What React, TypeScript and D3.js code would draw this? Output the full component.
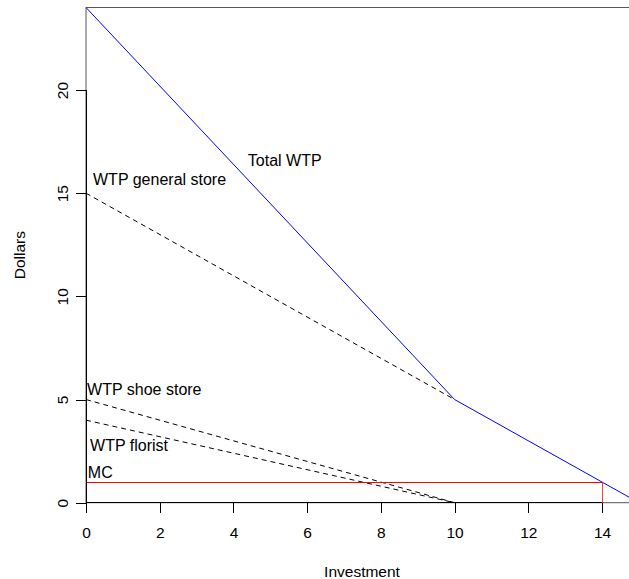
import React, { useRef, useEffect } from 'react';
import * as d3 from 'd3';

// willingness to pay curves (investment -> dollars)
const investment = [0, 10];
const generalStore = [15, 5];
const shoeStore = [5, 0];
const florist = [4, 0];
const totalX = [0, 10, 15];
const totalWTP = [24, 5, 0];
const mcX = [0, 14];
const mcY = [1, 1];
const xTicks = [0, 2, 4, 6, 8, 10, 12, 14];
const yTicks = [0, 5, 10, 15, 20];
const labels = [
    { text: 'WTP general store', x: 0.19, y: 15.67 },
    { text: 'Total WTP', x: 4.39, y: 16.6 },
    { text: 'WTP shoe store', x: 0.03, y: 5.49 },
    { text: 'WTP florist', x: 0.11, y: 2.8 },
    { text: 'MC', x: 0.05, y: 1.46 },
];

const W = 629;
const H = 579;
const FONT = '"Liberation Sans", Arial, sans-serif';

const App = () => {
    const svgRef = useRef<SVGSVGElement>(null);

    useEffect(() => {
        const svg = d3.select(svgRef.current)
            .attr('width', W)
            .attr('height', H)
            .style('position', 'absolute')
            .style('left', 0)
            .style('top', 0)
            .style('background', '#fff');
        svg.selectAll('*').remove();

        const x = d3.scaleLinear().domain([0, 15]).range([86, 86 + 15 * 36.86]);
        const y = d3.scaleLinear().domain([0, 24]).range([502.7, 7.5]);

        svg.append('defs').append('clipPath').attr('id', 'plot')
            .append('rect')
            .attr('x', x(0)).attr('y', y(24))
            .attr('width', x(15) - x(0)).attr('height', y(0) - y(24));

        // box
        svg.append('rect')
            .attr('x', x(0)).attr('y', y(24))
            .attr('width', x(15) - x(0)).attr('height', y(0) - y(24))
            .attr('fill', 'none').attr('stroke', '#555');

        const line = d3.line<[number, number]>().x(d => x(d[0])).y(d => y(d[1]));
        const plot = svg.append('g').attr('clip-path', 'url(#plot)');

        [generalStore, shoeStore, florist].forEach(vals => {
            plot.append('path')
                .attr('d', line(investment.map((v, i) => [v, vals[i]])))
                .attr('fill', 'none').attr('stroke', '#000')
                .attr('stroke-dasharray', '5,4');
        });

        plot.append('path')
            .attr('d', line(totalX.map((v, i) => [v, totalWTP[i]])))
            .attr('fill', 'none').attr('stroke', '#0000ff');

        plot.append('path')
            .attr('d', line(mcX.map((v, i) => [v, mcY[i]])))
            .attr('fill', 'none').attr('stroke', '#ff0000')
            .attr('shape-rendering', 'crispEdges');
        plot.append('path')
            .attr('d', line([[mcX[1], 0], [mcX[1], mcY[1]]]))
            .attr('fill', 'none').attr('stroke', '#ff0000').attr('stroke-opacity', 0.75)
            .attr('shape-rendering', 'crispEdges');

        // axes
        const xAxis = d3.axisBottom(x).tickValues(xTicks).tickSize(10).tickPadding(14);
        const gx = svg.append('g').attr('transform', `translate(0,${y(0)})`).call(xAxis);
        gx.select('.domain').attr('d', `M${x(0)},0H${x(14)}`);

        const yAxis = d3.axisLeft(y).tickValues(yTicks).tickSize(10).tickPadding(0);
        const gy = svg.append('g').attr('transform', `translate(${x(0)},0)`).call(yAxis);
        gy.select('.domain').attr('d', `M0,${y(0)}V${y(20)}`);
        gy.selectAll('.tick text')
            .attr('x', null).attr('dy', null)
            .attr('text-anchor', 'middle')
            .attr('transform', 'translate(-23,0) rotate(-90)')
            .attr('dy', '0.35em');

        svg.selectAll('.tick text')
            .attr('font-family', FONT).attr('font-size', 15.5).attr('fill', '#000');
        svg.selectAll('.domain, .tick line').attr('stroke', '#000')
            .attr('shape-rendering', 'crispEdges');

        svg.selectAll('text.lbl')
            .data(labels)
            .enter()
            .append('text')
            .attr('class', 'lbl')
            .attr('x', d => x(d.x))
            .attr('y', d => y(d.y))
            .attr('dy', '0.35em')
            .attr('font-family', FONT).attr('font-size', 16)
            .text(d => d.text);

        svg.append('text')
            .attr('x', 362).attr('y', 577)
            .attr('text-anchor', 'middle')
            .attr('font-family', FONT).attr('font-size', 15.5)
            .text('Investment');

        svg.append('text')
            .attr('transform', `translate(25,${(y(0) + y(24)) / 2}) rotate(-90)`)
            .attr('text-anchor', 'middle')
            .attr('font-family', FONT).attr('font-size', 15.5)
            .text('Dollars');
    }, []);

    return <svg ref={svgRef}></svg>;
};

export default App;
